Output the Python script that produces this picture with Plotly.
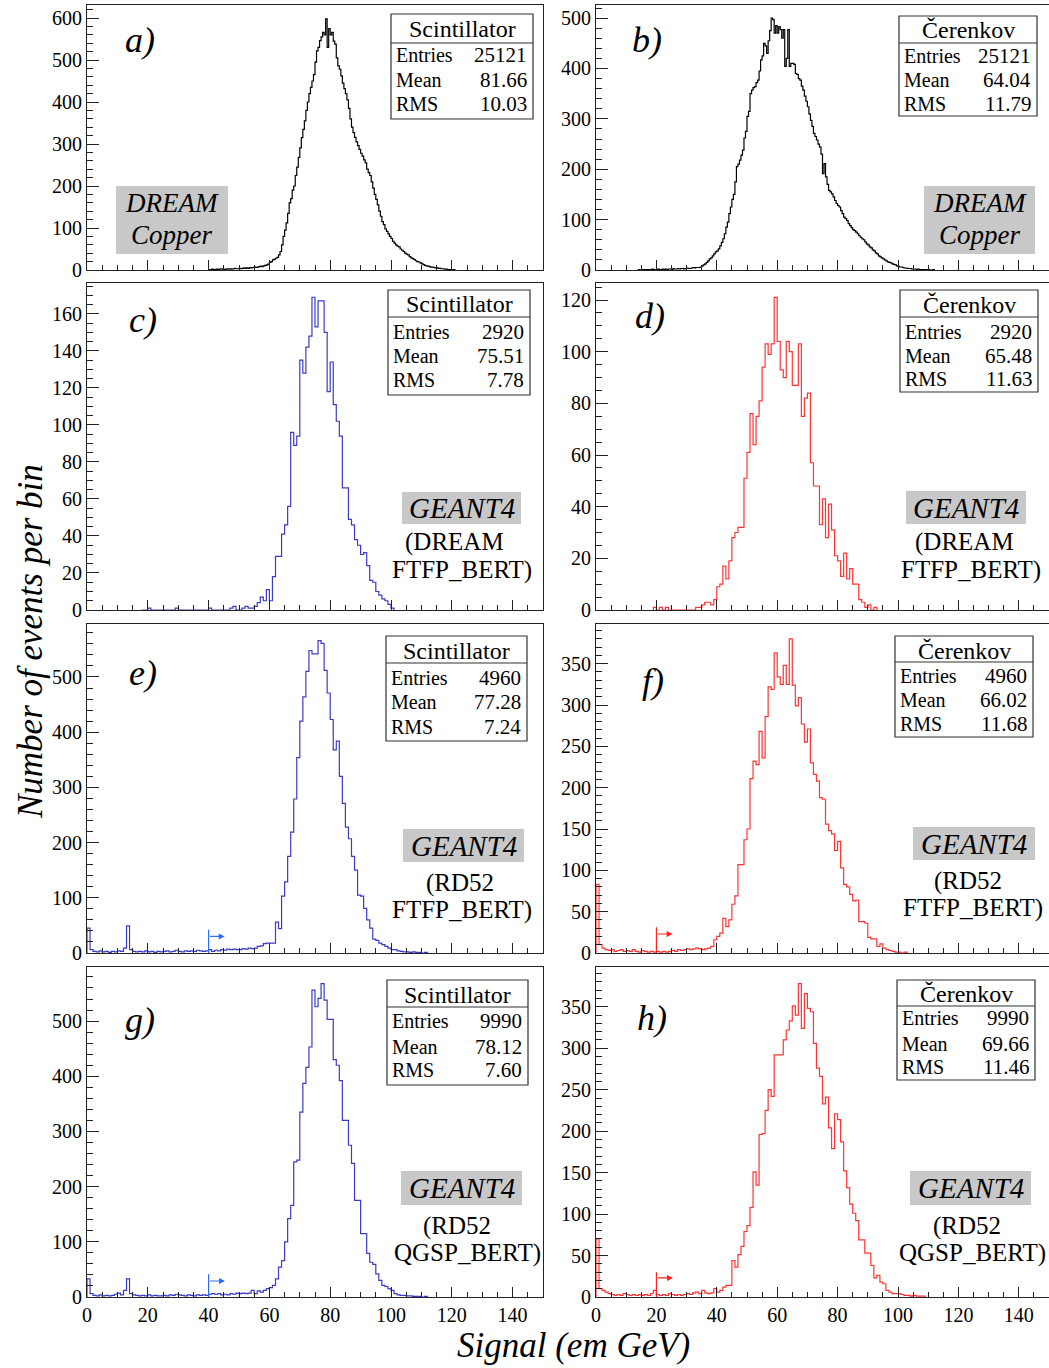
import numpy as np
import plotly.graph_objects as go

W, H = 1049, 1368

# ---------------- data (bin start, bin width, counts) ----------------
a_start, a_width = 40.0, 0.5
a_counts = [1, 0, 2, 1, 1, 2, 1, 2, 3, 2, 1, 2, 3, 2, 3, 2, 3, 4, 3, 3,
            4, 3, 4, 5, 4, 5, 4, 6, 5, 6, 7, 6, 7, 8, 9, 8, 10, 11, 12, 14,
            18, 20, 24, 26, 28, 30, 36, 44, 60, 80, 95, 112, 135, 160, 170, 190,
            200, 225, 245, 268, 291, 315, 335, 355, 380, 400, 420, 435, 450, 465,
            495, 522, 530, 546, 555, 566, 560, 598, 530, 575, 560, 566, 545, 538,
            505, 486, 478, 462, 445, 432, 420, 405, 385, 360, 340, 327, 316, 305,
            296, 287, 278, 271, 262, 255, 240, 232, 225, 210, 195, 180, 168, 155,
            140, 128, 115, 108, 98, 92, 86, 80, 75, 68, 64, 60, 57, 55, 50, 47,
            44, 40, 38, 36, 32, 29, 27, 25, 22, 20, 19, 17, 15, 13, 11, 10, 9, 8,
            7, 7, 6, 5, 5, 4, 4, 3, 3, 2, 2, 1, 1, 1, 0, 1]

b_start, b_width = 14.0, 0.5
b_counts = [1, 0, 0, 1, 0, 1, 1, 0, 1, 2, 1, 0, 1, 2, 1, 1, 2, 1, 2, 1,
            2, 2, 1, 3, 2, 2, 3, 2, 3, 3, 2, 3, 4, 3, 3, 4, 5, 4, 5, 5,
            5, 6, 8, 10, 12, 15, 18, 22, 24, 28, 32, 36, 38, 42, 48, 55, 62, 72,
            85, 95, 112, 125, 140, 150, 175, 205, 210, 218, 228, 238, 262, 275,
            305, 315, 350, 357, 362, 364, 372, 377, 395, 417, 425, 450, 445, 430,
            455, 475, 500, 497, 470, 485, 470, 483, 477, 460, 477, 404, 420, 477,
            404, 410, 410, 408, 390, 388, 380, 377, 365, 357, 345, 335, 324, 310,
            297, 285, 271, 265, 258, 250, 244, 230, 191, 211, 185, 170, 158, 155,
            151, 145, 138, 132, 128, 125, 118, 112, 105, 102, 98, 92, 88, 84, 80,
            78, 75, 72, 68, 65, 62, 60, 56, 52, 50, 46, 44, 40, 38, 34, 32, 28,
            26, 24, 22, 20, 18, 16, 15, 14, 12, 11, 10, 8, 7, 6, 6, 5, 4, 4, 3,
            3, 3, 2, 2, 2, 1, 2, 1, 1, 1, 0, 1, 0, 1, 0, 0, 1]

c_start, c_width = 18.0, 1.0
c_counts = [0, 0, 1, 0, 0, 0, 0, 0, 0, 0, 0, 1, 0, 0, 0, 0, 0, 0, 0, 0,
            0, 0, 1, 0, 0, 0, 0, 0, 0, 1, 2, 0, 0, 1, 2, 1, 1,
            2, 4, 7, 5, 11, 5, 18, 29, 29, 41, 46, 56, 96, 89, 94, 135, 128, 142,
            148, 169, 153, 167, 167, 150, 118, 134, 111, 102, 94, 66, 66, 49, 46,
            38, 35, 30, 31, 24, 16, 15, 10, 8, 6, 5, 3, 1]

d_start, d_width = 19.0, 1.0
d_counts = [1, 0, 1, 0, 1, 0, 0, 0, 0, 0, 0, 0, 0, 0, 1, 1, 2, 3, 3, 2, 4,
            9, 10, 17, 12, 19, 28, 30, 32, 32, 51, 61, 76, 64, 75, 81, 94, 103,
            99, 103, 121, 104, 93, 90, 104, 100, 87, 87, 103, 75, 82, 84, 57, 48,
            48, 33, 43, 28, 41, 31, 21, 19, 13, 22, 12, 16, 10, 10, 4, 3, 1, 2,
            0, 1]

e_start, e_width = 0.0, 1.0
e_counts = [45, 6, 3, 2, 4, 2, 3, 1, 3, 2, 4, 3, 9, 49, 6, 3, 2, 3, 2, 4,
            2, 3, 1, 3, 2, 3, 4, 2, 3, 5, 3, 2, 4, 3, 4, 3, 5, 4, 3, 4,
            6, 3, 5, 4, 6, 5, 7, 6, 7, 6, 6, 8, 7, 9, 8, 9, 12, 13, 17, 18,
            18, 18, 56, 44, 103, 129, 175, 219, 279, 354, 420, 464, 510, 548, 542,
            542, 566, 561, 512, 471, 423, 368, 384, 320, 271, 228, 207, 175, 150,
            105, 103, 81, 60, 45, 25, 23, 18, 15, 12, 9, 6, 6, 4, 3, 2, 2, 1, 2,
            1, 1, 0, 1]

f_start, f_width = 0.0, 1.0
f_counts = [83, 10, 6, 4, 3, 4, 2, 3, 4, 2, 3, 2, 4, 2, 1, 3, 2, 1, 2, 1,
            2, 1, 2, 1, 2, 3, 2, 4, 3, 4, 5, 4, 5, 6, 5, 4, 5, 6, 8, 16,
            20, 24, 42, 32, 40, 59, 69, 107, 107, 137, 150, 211, 232, 228, 268,
            236, 286, 322, 319, 363, 334, 325, 348, 325, 380, 324, 299, 309, 277,
            255, 271, 230, 216, 208, 188, 186, 156, 148, 144, 124, 135, 103, 83,
            80, 71, 63, 64, 38, 38, 36, 19, 17, 17, 8, 11, 6, 4, 3, 2, 1, 1, 0, 1]

g_start, g_width = 0.0, 1.0
g_counts = [33, 6, 3, 2, 4, 2, 3, 2, 3, 5, 7, 4, 12, 33, 6, 4, 3, 2, 3, 2,
            4, 2, 3, 2, 2, 3, 2, 4, 3, 5, 4, 3, 2, 4, 3, 2, 4, 3, 4, 3,
            5, 6, 5, 6, 4, 5, 4, 6, 5, 7, 6, 7, 6, 7, 12, 6, 11, 9, 12, 15,
            17, 21, 33, 54, 66, 100, 142, 166, 245, 248, 335, 387, 416, 453, 556,
            526, 541, 568, 538, 503, 503, 430, 420, 392, 320, 320, 275, 242, 175,
            175, 115, 115, 79, 63, 59, 42, 30, 21, 19, 15, 12, 6, 4, 3, 3, 2, 2,
            1, 1, 1, 0, 1]

h_start, h_width = 0.0, 1.0
h_counts = [70, 10, 8, 6, 4, 3, 2, 3, 2, 4, 3, 2, 3, 2, 3, 2, 3, 2, 4, 8,
            3, 2, 3, 2, 4, 3, 2, 3, 2, 3, 4, 3, 5, 6, 4, 8, 5, 4, 5, 10,
            6, 8, 12, 14, 14, 44, 36, 51, 61, 79, 86, 108, 151, 135, 196, 197,
            225, 250, 242, 292, 292, 292, 310, 322, 333, 351, 340, 378, 324, 366,
            348, 344, 306, 276, 266, 233, 241, 204, 179, 221, 214, 187, 152, 132,
            112, 101, 92, 69, 69, 53, 53, 38, 23, 26, 18, 16, 8, 6, 4, 4, 4, 3,
            2, 2, 1, 2, 1, 1, 1]

panel_letters = ["a)", "b)", "c)", "d)", "e)", "f)", "g)", "h)"]
stat_titles = ["Scintillator", "Čerenkov"] * 4
stat_entries = ["25121", "25121", "2920", "2920", "4960", "4960", "9990", "9990"]
stat_means = ["81.66", "64.04", "75.51", "65.48", "77.28", "66.02", "78.12", "69.66"]
stat_rms = ["10.03", "11.79", "7.78", "11.63", "7.24", "11.68", "7.60", "11.46"]
x_tick_vals = [0, 20, 40, 60, 80, 100, 120, 140]

# ---------------- styling / layout geometry ----------------
BLACK = "#000000"
BLUE = "#3b3bc6"
RED = "#ff3535"
SERIF = "Liberation Serif"

hists = [(a_start, a_width, a_counts), (b_start, b_width, b_counts),
         (c_start, c_width, c_counts), (d_start, d_width, d_counts),
         (e_start, e_width, e_counts), (f_start, f_width, f_counts),
         (g_start, g_width, g_counts), (h_start, h_width, h_counts)]
colors = [BLACK, BLACK, BLUE, RED, BLUE, RED, BLUE, RED]
y_max = [631, 526, 176.7, 126.6, 596, 398, 598, 398]
y_dtick = [100, 100, 20, 20, 100, 50, 100, 50]
y_minor = [20, 20, 5, 5, 20, 10, 20, 10]

col_px = [(87, 543), (596, 1049)]
row_px = [(5, 270), (283, 610), (624, 953), (967, 1297)]


def px(x):
    return x / W


def py(y):
    return 1 - y / H


fig = go.Figure()
layout = dict(width=W, height=H, margin=dict(l=0, r=0, t=0, b=0),
              paper_bgcolor="white", plot_bgcolor="white", showlegend=False,
              font=dict(family=SERIF, color="black"))
shapes = []
annotations = []

for i, (start, width, counts) in enumerate(hists):
    k = i + 1
    row, col = i // 2, i % 2
    counts = np.asarray(counts, dtype=float)
    n = len(counts)
    xs = np.concatenate([[start], start + width * np.arange(n), [start + width * n]])
    ys = np.concatenate([[0.0], counts, [0.0]])
    fig.add_trace(go.Scatter(x=xs, y=ys, mode="lines", line_shape="hv",
                             line=dict(color=colors[i], width=1.2),
                             xaxis=f"x{k}", yaxis=f"y{k}", hoverinfo="skip"))
    x0, x1 = col_px[col]
    y0, y1 = row_px[row]
    xa = dict(domain=[px(x0), min(px(x1), 1.0)], range=[0, 150], anchor=f"y{k}",
              showgrid=False, zeroline=False, showline=True, mirror=True,
              linecolor="#222", linewidth=1.2, automargin=False,
              ticks="inside", ticklen=10, tickcolor="#222", tickwidth=1,
              tickmode="array", tickvals=x_tick_vals,
              minor=dict(ticks="inside", dtick=5, ticklen=5, tickcolor="#222",
                         tickwidth=1, showgrid=False),
              showticklabels=(row == 3),
              tickfont=dict(family=SERIF, size=20, color="black"))
    ya = dict(domain=[py(y1), py(y0)], range=[0, y_max[i]], anchor=f"x{k}",
              showgrid=False, zeroline=False, showline=True, mirror=True,
              linecolor="#222", linewidth=1.2, automargin=False,
              ticks="inside", ticklen=12, tickcolor="#222", tickwidth=1,
              dtick=y_dtick[i], tick0=0,
              minor=dict(ticks="inside", dtick=y_minor[i], ticklen=6,
                         tickcolor="#222", tickwidth=1, showgrid=False),
              tickfont=dict(family=SERIF, size=20, color="black"))
    layout["xaxis" if k == 1 else f"xaxis{k}"] = xa
    layout["yaxis" if k == 1 else f"yaxis{k}"] = ya

# ---------------- stats boxes ----------------
stat_boxes = [  # x0, x1, y0, y1, divider, title_y, row ys
    (391, 533, 14, 119, 43, 29, (55, 80, 104)),
    (899, 1037, 16, 116, 43, 30, (56, 80, 104)),
    (388, 530, 290, 395, 317, 304, (332, 356, 380)),
    (900, 1038, 290, 392, 317, 305, (332, 356, 379)),
    (386, 527, 636, 741, 663, 651, (678, 702, 727)),
    (895, 1033, 636, 737, 662, 651, (676, 700, 724)),
    (387, 528, 980, 1085, 1007, 995, (1021, 1047, 1070)),
    (897, 1035, 980, 1080, 1006, 994, (1018, 1044, 1067)),
]
for i, (bx0, bx1, by0, by1, div, ty, rys) in enumerate(stat_boxes):
    shapes.append(dict(type="rect", xref="paper", yref="paper",
                       x0=px(bx0), x1=px(bx1), y0=py(by1), y1=py(by0),
                       line=dict(color="#333", width=1.2), fillcolor="white"))
    shapes.append(dict(type="line", xref="paper", yref="paper",
                       x0=px(bx0), x1=px(bx1), y0=py(div), y1=py(div),
                       line=dict(color="#333", width=1.2)))
    annotations.append(dict(text=stat_titles[i], x=px((bx0 + bx1) / 2), y=py(ty),
                            xref="paper", yref="paper", showarrow=False,
                            xanchor="center", yanchor="middle",
                            font=dict(family=SERIF, size=24, color="black")))
    for lab, val, ry in zip(["Entries", "Mean", "RMS"],
                            [stat_entries[i], stat_means[i], stat_rms[i]], rys):
        annotations.append(dict(text=lab, x=px(bx0 + 3), y=py(ry), xref="paper",
                                yref="paper", showarrow=False, xanchor="left",
                                yanchor="middle",
                                font=dict(family=SERIF, size=20, color="black")))
        annotations.append(dict(text=val, x=px(bx1 - 4), y=py(ry), xref="paper",
                                yref="paper", showarrow=False, xanchor="right",
                                yanchor="middle",
                                font=dict(family=SERIF, size=21, color="black")))

# ---------------- panel letters ----------------
letter_pos = [(140, 40), (647, 40), (143, 320), (650, 316),
              (143, 673), (653, 681), (140, 1020), (652, 1018)]
for lab, (lx, ly) in zip(panel_letters, letter_pos):
    annotations.append(dict(text=f"<i>{lab}</i>", x=px(lx), y=py(ly), xref="paper",
                            yref="paper", showarrow=False, xanchor="center",
                            yanchor="middle",
                            font=dict(family=SERIF, size=36, color="black")))

# ---------------- grey labels ----------------
GREY = "#c8c8c8"
for (gx0, gx1, gy0, gy1) in [(116, 228, 186, 254), (924, 1035, 186, 254)]:
    shapes.append(dict(type="rect", xref="paper", yref="paper", x0=px(gx0),
                       x1=px(gx1), y0=py(gy1), y1=py(gy0), line=dict(width=0),
                       fillcolor=GREY))
    cx = (gx0 + gx1) / 2
    for t, ty in [("DREAM", 203), ("Copper", 235)]:
        annotations.append(dict(text=f"<i>{t}</i>", x=px(cx), y=py(ty),
                                xref="paper", yref="paper", showarrow=False,
                                xanchor="center", yanchor="middle",
                                font=dict(family=SERIF, size=27, color="black")))

geant = [  # box x0,x1,y0,y1, line1 (x,y), line2 (x,y), texts
    (402, 521, 492, 524, (454, 542), (462, 570), "(DREAM", "FTFP_BERT)"),
    (906, 1026, 491, 524, (964, 542), (971, 570), "(DREAM", "FTFP_BERT)"),
    (403, 524, 829, 862, (460, 883), (462, 910), "(RD52", "FTFP_BERT)"),
    (913, 1035, 827, 860, (968, 881), (973, 908), "(RD52", "FTFP_BERT)"),
    (401, 522, 1171, 1205, (457, 1226), (467, 1253), "(RD52", "QGSP_BERT)"),
    (910, 1031, 1171, 1205, (967, 1226), (972, 1253), "(RD52", "QGSP_BERT)"),
]
for (gx0, gx1, gy0, gy1, p1, p2, t1, t2) in geant:
    shapes.append(dict(type="rect", xref="paper", yref="paper", x0=px(gx0),
                       x1=px(gx1), y0=py(gy1), y1=py(gy0), line=dict(width=0),
                       fillcolor=GREY))
    annotations.append(dict(text="<i>GEANT4</i>", x=px((gx0 + gx1) / 2),
                            y=py((gy0 + gy1) / 2), xref="paper", yref="paper",
                            showarrow=False, xanchor="center", yanchor="middle",
                            font=dict(family=SERIF, size=29, color="black")))
    for t, (tx, ty) in [(t1, p1), (t2, p2)]:
        annotations.append(dict(text=t, x=px(tx), y=py(ty), xref="paper",
                                yref="paper", showarrow=False, xanchor="center",
                                yanchor="middle",
                                font=dict(family=SERIF, size=25, color="black")))

# ---------------- cut arrows ----------------
arrows = [  # axis index, x cut, vertical height, arrow y, arrow end, colour
    (5, 40, 42, 30, 45.3, "#2f6bff"),
    (6, 20, 31, 23, 25.4, "#ff2020"),
    (7, 40, 41, 29, 45.4, "#2f6bff"),
    (8, 20, 30, 23, 25.5, "#ff2020"),
]
for (k, xc, hgt, ay, xe, colr) in arrows:
    shapes.append(dict(type="line", xref=f"x{k}", yref=f"y{k}", x0=xc, x1=xc,
                       y0=0, y1=hgt, line=dict(color=colr, width=1.2)))
    annotations.append(dict(x=xe, y=ay, ax=xc, ay=ay, xref=f"x{k}", yref=f"y{k}",
                            axref=f"x{k}", ayref=f"y{k}", showarrow=True,
                            arrowhead=2, arrowsize=1, arrowwidth=1.2,
                            arrowcolor=colr, text=""))

# ---------------- axis titles ----------------
annotations.append(dict(text="<i>Number of events per bin</i>", x=px(30), y=py(642),
                        xref="paper", yref="paper", showarrow=False, textangle=-90,
                        xanchor="center", yanchor="middle",
                        font=dict(family=SERIF, size=35, color="black")))
annotations.append(dict(text="<i>Signal (em GeV)</i>", x=px(573), y=py(1345),
                        xref="paper", yref="paper", showarrow=False,
                        xanchor="center", yanchor="middle",
                        font=dict(family=SERIF, size=35, color="black")))

layout["shapes"] = shapes
layout["annotations"] = annotations
fig.update_layout(**layout)
fig.write_html(
    "out.html",
    post_script="document.documentElement.style.margin='0';"
                "document.body.style.margin='0';document.body.style.padding='0';"
                "document.body.style.overflow='hidden';",
)
